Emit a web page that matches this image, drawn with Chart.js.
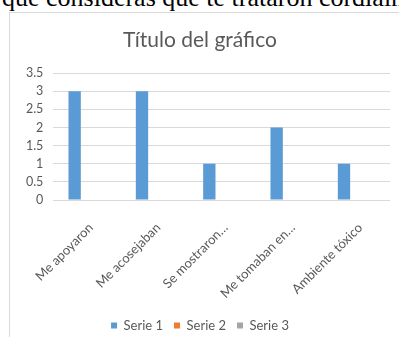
<!DOCTYPE html>
<html>
<head>
<meta charset="utf-8">
<script src="https://cdn.jsdelivr.net/npm/chart.js@4/dist/chart.umd.min.js"></script>
<style>
  html, body { margin: 0; padding: 0; width: 399px; height: 337px; overflow: hidden; background: #fff; }
  #lead {
    position: absolute; left: 2px; top: -15px; white-space: nowrap;
    font: 26px/26px "Liberation Serif", "Times New Roman", serif; color: #000;
  }
  #frame {
    position: absolute; left: 9px; top: 12px; width: 406px; height: 340px;
    border: 1px solid #d9d9d9; background: #fff;
  }
  #wrap { position: absolute; left: 0; top: 0; width: 404px; height: 329px; }
</style>
</head>
<body>
<div id="lead">que consideras que te trataron cordialmente</div>
<div id="frame">
  <div id="wrap"><canvas id="c"></canvas></div>
</div>
<script>
// Chart data
const categories = ["Me apoyaron", "Me acosejaban", "Se mostraron…", "Me tomaban en…", "Ambiente tóxico"];
const serie1 = [3, 3, 1, 2, 1];
const serie2 = [null, null, null, null, null];
const serie3 = [null, null, null, null, null];
const yTicks = [0, 0.5, 1, 1.5, 2, 2.5, 3, 3.5];

const grey = "#595959";
const font = "Lato, 'Open Sans', sans-serif";

new Chart(document.getElementById("c"), {
  type: "bar",
  data: {
    labels: categories,
    datasets: [
      { label: "Serie 1", data: serie1, backgroundColor: "#5b9bd5" },
      { label: "Serie 2", data: serie2, backgroundColor: "#ed7d31" },
      { label: "Serie 3", data: serie3, backgroundColor: "#a5a5a5" }
    ]
  },
  options: {
    responsive: true,
    maintainAspectRatio: false,
    animation: false,
    datasets: { bar: { categoryPercentage: 0.55, barPercentage: 1, borderWidth: 0 } },
    layout: { padding: { left: 0, right: 24, top: 0, bottom: 0 } },
    plugins: {
      title: {
        display: true,
        text: "Título del gráfico",
        color: grey,
        font: { family: font, size: 21, weight: "normal" },
        padding: { top: 15, bottom: 20 }
      },
      legend: {
        position: "bottom",
        labels: {
          color: grey,
          font: { family: font, size: 13 },
          boxWidth: 6, boxHeight: 6, padding: 11
        }
      },
      tooltip: { enabled: false }
    },
    scales: {
      x: {
        grid: { display: false, drawTicks: false },
        border: { display: false },
        ticks: {
          color: grey, font: { family: font, size: 13 },
          maxRotation: 45, minRotation: 45, padding: 20, labelOffset: 4,
          autoSkip: false
        },
        afterFit(scale) { scale.height = 108; }
      },
      y: {
        min: 0, max: 3.5,
        afterBuildTicks(scale) { scale.ticks = yTicks.map(v => ({ value: v })); },
        grid: { color: "#d9d9d9", drawTicks: false },
        border: { display: false },
        ticks: {
          color: grey, font: { family: font, size: 12.5 }, padding: 10,
          autoSkip: false,
          callback: v => String(v)
        },
        afterFit(scale) { scale.width = 39; }
      }
    }
  }
});
</script>
</body>
</html>
